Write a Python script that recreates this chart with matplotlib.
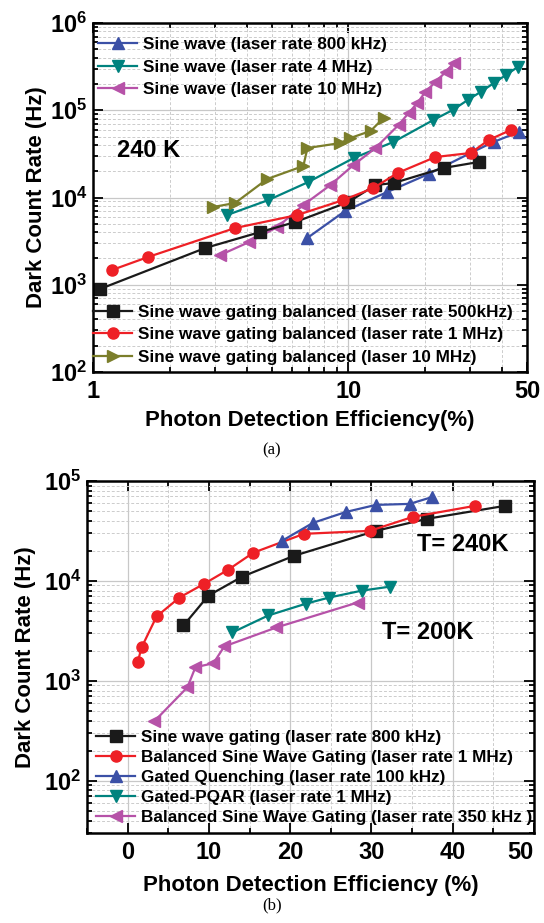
import matplotlib
matplotlib.use("Agg")
import matplotlib.pyplot as plt
from matplotlib.ticker import FixedLocator, NullFormatter, LogLocator, MultipleLocator, FuncFormatter
import numpy as np

plt.rcParams['font.family'] = ['Liberation Sans', 'DejaVu Sans']
plt.rcParams['font.weight'] = 'bold'
plt.rcParams['mathtext.fontset'] = 'custom'
plt.rcParams['mathtext.rm'] = 'Liberation Sans:bold'
plt.rcParams['mathtext.bf'] = 'Liberation Sans:bold'
plt.rcParams['mathtext.it'] = 'Liberation Sans:bold'

# ---------------- Panel (a) data (240 K) ----------------
a_blue_x = [6.9, 9.7, 14.2, 20.6, 30.6, 37.0, 46.4]
a_blue_y = [3435, 7000, 11570, 18600, 33200, 43300, 56300]
a_teal_x = [3.35, 4.86, 6.97, 10.5, 15.0, 21.5, 25.6, 29.3, 32.9, 37.1, 41.3, 46.0]
a_teal_y = [6300, 9350, 15060, 28400, 43300, 77300, 100700, 131000, 162000, 205000, 253000, 313000]
a_mag_x = [3.15, 4.09, 5.27, 6.66, 8.50, 10.46, 12.76, 15.71, 17.2, 18.6, 20.0, 21.9, 24.0, 25.8]
a_mag_y = [2193, 3090, 4590, 8200, 13900, 23550, 36900, 67800, 92900, 121000, 162000, 211000, 274000, 348000]
a_blk_x = [1.065, 2.75, 4.52, 6.20, 10.0, 12.76, 15.02, 23.58, 32.3]
a_blk_y = [894, 2637, 4023, 5240, 8880, 13900, 14650, 21800, 25500]
a_red_x = [1.187, 1.643, 3.60, 6.31, 9.56, 12.53, 15.57, 21.9, 30.1, 35.4, 43.2]
a_red_y = [1476, 2080, 4470, 6300, 9360, 12850, 19100, 29100, 32370, 45600, 59400]
a_olv_x = [2.955, 3.60, 4.81, 6.66, 6.91, 9.30, 10.18, 12.20, 13.72]
a_olv_y = [7780, 8650, 16300, 22960, 36900, 42100, 48100, 57800, 81500]

a_labels_top = ['Sine wave (laser rate 800 kHz)', 'Sine wave (laser rate 4 MHz)',
                'Sine wave (laser rate 10 MHz)']
a_labels_bot = ['Sine wave gating balanced (laser rate 500kHz)',
                'Sine wave gating balanced (laser rate 1 MHz)',
                'Sine wave gating balanced (laser 10 MHz)']

# ---------------- Panel (b) data ----------------
b_blk_x = [6.87, 9.94, 14.1, 20.5, 30.55, 36.8, 46.4]
b_blk_y = [3580, 7130, 11040, 17870, 31700, 41800, 56350]
b_red_x = [1.23, 1.72, 3.56, 6.38, 9.45, 12.39, 15.46, 21.7, 29.8, 35.1, 42.7]
b_red_y = [1531, 2163, 4406, 6820, 9400, 12970, 19150, 29600, 31700, 43750, 56350]
b_blue_x = [19.0, 22.8, 26.9, 30.55, 34.7, 37.5]
b_blue_y = [25200, 38100, 49100, 57650, 59000, 69200]
b_teal_x = [12.9, 17.3, 22.0, 24.8, 28.8, 32.3]
b_teal_y = [3055, 4510, 5940, 6820, 7990, 8770]
b_mag_x = [3.3, 7.36, 8.34, 10.55, 11.9, 18.3, 28.3]
b_mag_y = [395, 863, 1368, 1500, 2213, 3420, 6080]

b_labels = ['Sine wave gating (laser rate 800 kHz)',
            'Balanced Sine Wave Gating (laser rate 1 MHz)',
            'Gated Quenching (laser rate 100 kHz)',
            'Gated-PQAR (laser rate 1 MHz)',
            'Balanced Sine Wave Gating (laser rate 350 kHz )']

C_BLK = '#1a1a1a'
C_RED = '#EE2026'
C_BLUE = '#3B50A6'
C_TEAL = '#00827E'
C_MAG = '#B652A8'
C_OLV = '#7B7E2B'

W, H = 544, 923
fig = plt.figure(figsize=(W/100, H/100), dpi=100)
ax1 = fig.add_axes([93/W, 1-372/H, (527-93)/W, (372-23)/H])
ax2 = fig.add_axes([87/W, 1-833/H, (534-87)/W, (833-481)/H])

lw = 1.6
ms = 8
def plot(ax, x, y, c, m, lab):
    return ax.plot(x, y, color=c, marker=m, lw=lw, ms=ms, mec=c, mfc=c, label=lab)[0]

h_blue = plot(ax1, a_blue_x, a_blue_y, C_BLUE, '^', a_labels_top[0])
h_teal = plot(ax1, a_teal_x, a_teal_y, C_TEAL, 'v', a_labels_top[1])
h_mag = plot(ax1, a_mag_x, a_mag_y, C_MAG, '<', a_labels_top[2])
h_blk = plot(ax1, a_blk_x, a_blk_y, C_BLK, 's', a_labels_bot[0])
h_red = plot(ax1, a_red_x, a_red_y, C_RED, 'o', a_labels_bot[1])
h_olv = plot(ax1, a_olv_x, a_olv_y, C_OLV, '>', a_labels_bot[2])

ax1.set_xscale('log')
ax1.set_yscale('log')
ax1.set_xlim(1, 50)
ax1.set_ylim(1e2, 1e6)
ax1.xaxis.set_major_locator(FixedLocator([1, 10, 50]))
ax1.xaxis.set_major_formatter(FuncFormatter(lambda v, p: '%d' % round(v)))
ax1.xaxis.set_minor_locator(FixedLocator([2, 3, 4, 5, 6, 7, 8, 9, 20, 30, 40]))
ax1.xaxis.set_minor_formatter(NullFormatter())

sup = lambda v, p: r'$10^{%d}$' % round(np.log10(v))
TICKFS = 17
for ax in (ax1, ax2):
    ax.yaxis.set_major_locator(LogLocator(base=10, numticks=20))
    ax.yaxis.set_major_formatter(FuncFormatter(sup))
    ax.yaxis.set_minor_locator(LogLocator(base=10, subs=np.arange(2, 10), numticks=20))
    ax.yaxis.set_minor_formatter(NullFormatter())
    ax.tick_params(which='both', direction='in', top=True, right=True, width=1.3)
    ax.tick_params(which='major', length=7, labelsize=TICKFS, pad=4)
    ax.tick_params(axis='x', which='major', pad=6)
    ax.tick_params(which='minor', length=3.5)
    for s in ax.spines.values():
        s.set_linewidth(1.8)
    ax.grid(True, which='major', color='#c8c8c8', lw=0.9, ls='-')
    ax.grid(True, which='minor', color='#cccccc', lw=0.7, ls=(0, (3, 2)))
    ax.set_axisbelow(True)

LABFS = 16
LEGFS = 12.3
ax1.set_xlabel('Photon Detection Efficiency(%)', fontsize=LABFS, fontweight='bold', labelpad=5)
ax1.set_ylabel('Dark Count Rate (Hz)', fontsize=LABFS, fontweight='bold', labelpad=2)
ax1.text(1.24, 3.5e4, '240 K', fontsize=17, fontweight='bold', va='center', ha='left')

leg_kw = dict(frameon=False, fontsize=LEGFS, handlelength=2.3, handletextpad=0.35,
              borderaxespad=0.0, borderpad=0.0)
leg1 = ax1.legend(handles=[h_blue, h_teal, h_mag], loc='upper left',
                  bbox_to_anchor=(0.012, 0.96), labelspacing=0.45, **leg_kw)
ax1.add_artist(leg1)
ax1.legend(handles=[h_blk, h_red, h_olv], loc='lower left',
           bbox_to_anchor=(0.0, 0.02), labelspacing=0.45, **leg_kw)

fig.text(272/W, 1-450/H, '(a)', fontsize=12, family='Liberation Serif',
         fontweight='normal', ha='center', va='center')

# ---- panel b ----
g_blk = plot(ax2, b_blk_x, b_blk_y, C_BLK, 's', b_labels[0])
g_red = plot(ax2, b_red_x, b_red_y, C_RED, 'o', b_labels[1])
g_blue = plot(ax2, b_blue_x, b_blue_y, C_BLUE, '^', b_labels[2])
g_teal = plot(ax2, b_teal_x, b_teal_y, C_TEAL, 'v', b_labels[3])
g_mag = plot(ax2, b_mag_x, b_mag_y, C_MAG, '<', b_labels[4])

ax2.set_yscale('log')
ax2.set_xlim(-5, 50)
ax2.set_ylim(30, 1e5)
ax2.xaxis.set_major_locator(MultipleLocator(10))
ax2.xaxis.set_minor_locator(MultipleLocator(5))
ax2.xaxis.set_major_formatter(FuncFormatter(lambda v, p: '' if v >= 50 else '%d' % round(v)))
ax2.yaxis.set_major_locator(LogLocator(base=10, numticks=20))
ax2.yaxis.set_major_formatter(FuncFormatter(sup))
# the "50" label sits at the right edge; draw it so it is not clipped
ax2.annotate('50', xy=(1.0, 0.0), xycoords='axes fraction', xytext=(0, -6),
             textcoords='offset points', ha='right', va='top', fontsize=TICKFS,
             fontweight='bold', annotation_clip=False)
ax2.set_xlabel('Photon Detection Efficiency (%)', fontsize=LABFS, fontweight='bold', labelpad=8)
ax2.set_ylabel('Dark Count Rate (Hz)', fontsize=LABFS, fontweight='bold', labelpad=5.5)
ax2.text(35.6, 2.3e4, 'T= 240K', fontsize=17, fontweight='bold', va='center', ha='left')
ax2.text(31.3, 3.05e3, 'T= 200K', fontsize=17, fontweight='bold', va='center', ha='left')
ax2.legend(handles=[g_blk, g_red, g_blue, g_teal, g_mag], loc='lower left',
           bbox_to_anchor=(0.02, 0.024), labelspacing=0.28, **leg_kw)

fig.text(272/W, 1-905/H, '(b)', fontsize=12, family='Liberation Serif',
         fontweight='normal', ha='center', va='center')

fig.savefig('out.png', dpi=100)
